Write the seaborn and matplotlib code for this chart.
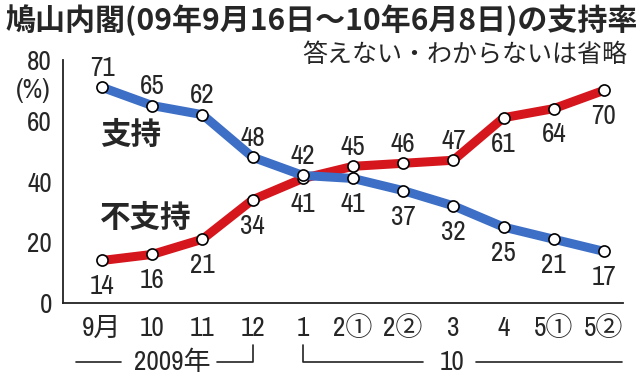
import numpy as np
import pandas as pd
import matplotlib
matplotlib.use("Agg")
import matplotlib.pyplot as plt
import seaborn as sns

# survey points (x categories) and approval / disapproval rates
labels = ["9月", "10", "11", "12", "1", "2①", "2②", "3", "4", "5①", "5②"]
support = [71, 65, 62, 48, 42, 41, 37, 32, 25, 21, 17]
oppose = [14, 16, 21, 34, 41, 45, 46, 47, 61, 64, 70]
# label placement: +1 above the point, -1 below
support_side = [1, 1, 1, 1, 1, -1, -1, -1, -1, -1, -1]
oppose_side = [-1, -1, -1, -1, -1, 1, 1, 1, -1, -1, -1]

BLUE = "#3d6fc6"
RED = "#d6161d"
FS = 19.5

sns.set_style("white")
plt.rcParams["font.family"] = ["Archivo Narrow", "Noto Sans CJK JP", "DejaVu Sans"]

df = pd.DataFrame({
    "pos": list(range(len(labels))) * 2,
    "rate": support + oppose,
    "series": ["支持"] * len(labels) + ["不支持"] * len(labels),
})

fig = plt.figure(figsize=(6.4, 3.8), dpi=100)
ax = fig.add_axes([0.0984, 0.2026, 0.875, 0.6395])

# red under blue, as in the original
for name, color in [("不支持", RED), ("支持", BLUE)]:
    sns.lineplot(data=df[df["series"] == name], x="pos", y="rate", color=color,
                 linewidth=6.5, marker="o", markersize=8, markerfacecolor="white",
                 markeredgecolor="black", markeredgewidth=1.2, ax=ax, zorder=3)

for vals, sides in [(support, support_side), (oppose, oppose_side)]:
    for i, (v, s) in enumerate(zip(vals, sides)):
        dy = 13.5 if s > 0 else -19
        ax.annotate(str(v), (i, v), xytext=(0, dy), textcoords="offset points",
                    ha="center", va="center", fontsize=FS, zorder=5)

ax.set_xlim(-0.78, 10.38)
ax.set_ylim(0, 80)
ax.set_yticks([0, 20, 40, 60, 80])
ax.set_xticks(range(len(labels)))
ax.set_xticklabels(labels)
ax.set_xlabel("")
ax.set_ylabel("")
ax.tick_params(axis="y", direction="in", length=10, width=1.2, pad=8, labelsize=FS)
ax.tick_params(axis="x", direction="in", length=6, width=1.2, pad=9, labelsize=FS)
for side in ["top", "right"]:
    ax.spines[side].set_visible(False)
for side in ["left", "bottom"]:
    ax.spines[side].set_linewidth(1.3)
    ax.spines[side].set_color("#222222")
ax.grid(False)

# series names
ax.text(-0.04, 55.3, "支持", fontsize=22, fontweight="bold", va="center", ha="left",
        family=["Noto Sans CJK JP"])
ax.text(-0.04, 28, "不支持", fontsize=22, fontweight="bold", va="center", ha="left",
        family=["Noto Sans CJK JP"])

# year brackets under the axis
tr = ax.get_xaxis_transform()
kw = dict(color="#222222", linewidth=1.2, transform=tr, clip_on=False)
ax.plot([-0.52, 0.38], [-0.243, -0.243], **kw)
ax.plot([2.29, 3, 3], [-0.243, -0.243, -0.173], **kw)
ax.text(1.39, -0.245, "2009年", transform=tr, ha="center", va="center", fontsize=FS)
ax.plot([4, 4, 6.39], [-0.173, -0.243, -0.243], **kw)
ax.plot([7.45, 10.36], [-0.243, -0.243], **kw)
ax.text(6.97, -0.245, "10", transform=tr, ha="center", va="center", fontsize=FS)

fig.text(0.052, 0.763, "(%)", ha="center", va="center", fontsize=FS)
fig.text(0.008, 0.947, "鳩山内閣(09年9月16日～10年6月8日)の支持率", ha="left", va="center",
         fontsize=21.6, fontweight="bold", family=["Noto Sans CJK JP"])
fig.text(0.98, 0.855, "答えない・わからないは省略", ha="right", va="center", fontsize=18,
         family=["Noto Sans CJK JP"])

fig.savefig("out.png", dpi=100)
